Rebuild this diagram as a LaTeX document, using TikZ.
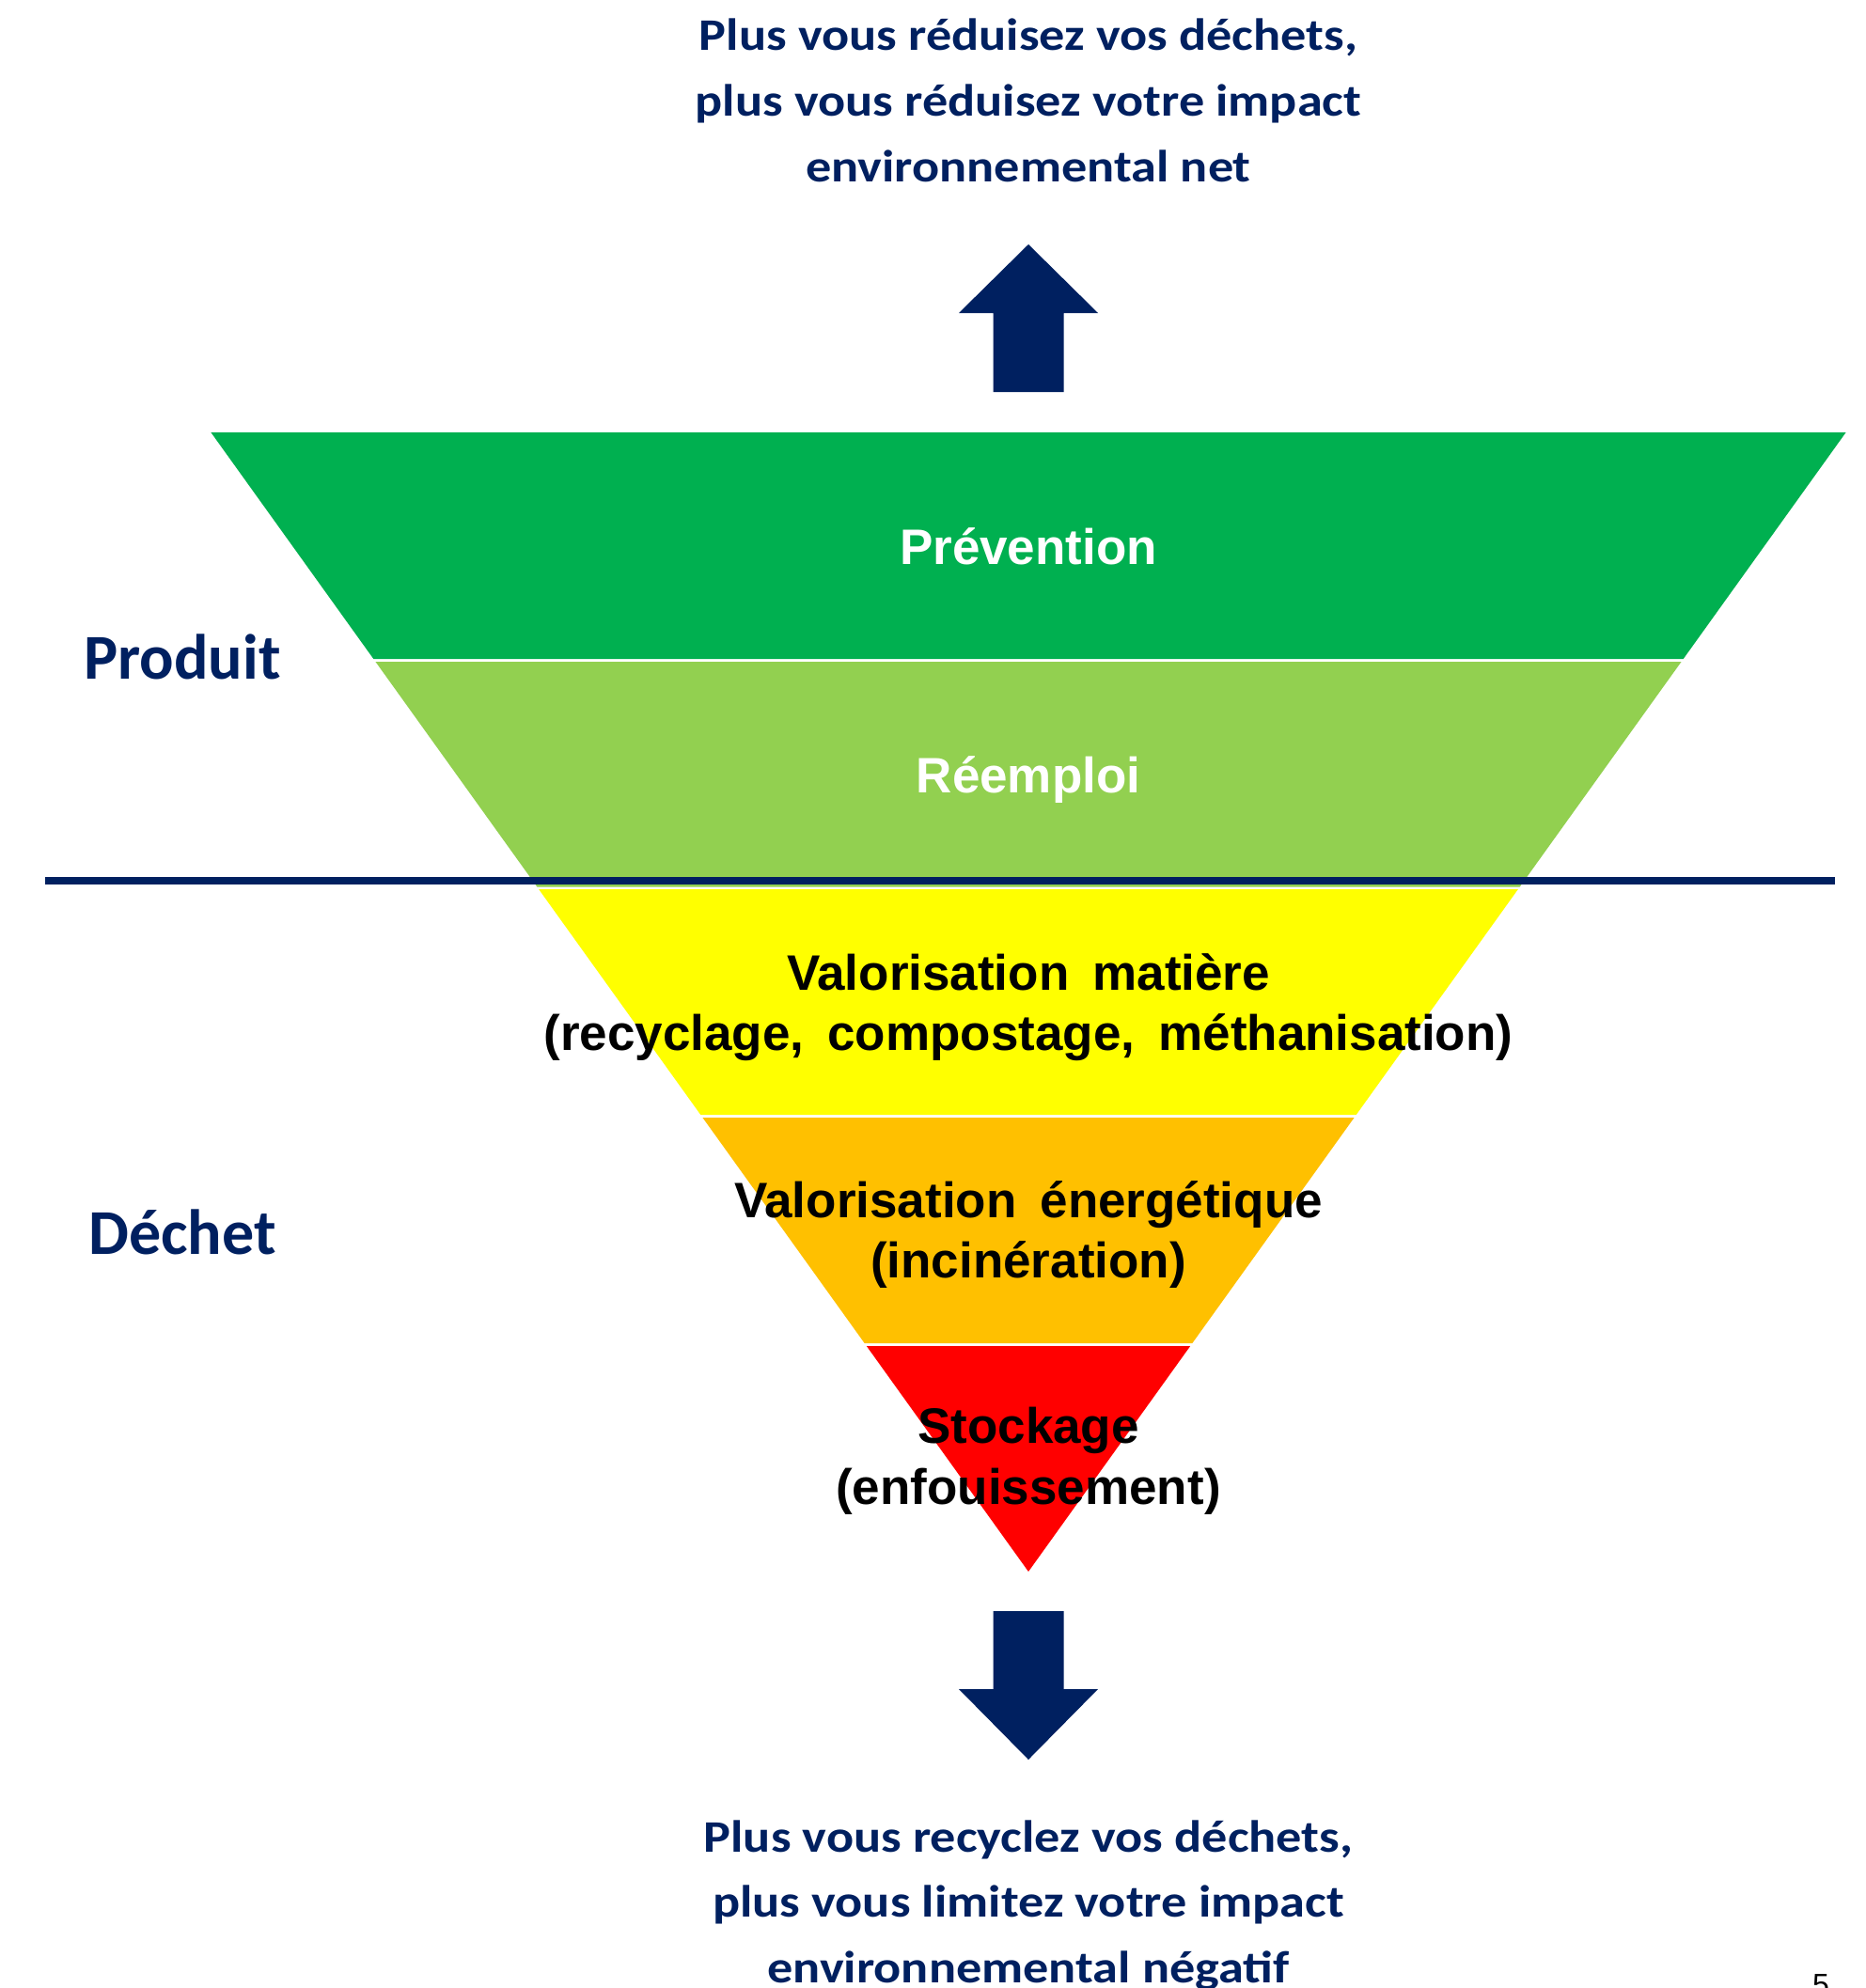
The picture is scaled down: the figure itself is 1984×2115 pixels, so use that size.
\documentclass[tikz,border=0pt]{standalone}
\usepackage{fontspec}
\setmainfont{Liberation Sans}
\newfontfamily\bandfont[WordSpace=1.7]{Liberation Sans}
\newfontfamily\msgfont[FakeStretch=1.13]{Carlito}
\newfontfamily\sidefont{Carlito}
\definecolor{navy}{HTML}{002060}
\definecolor{gdark}{HTML}{00B050}
\definecolor{glight}{HTML}{92D050}
\definecolor{ylw}{HTML}{FFFF00}
\definecolor{orng}{HTML}{FFC000}
\definecolor{rd}{HTML}{FF0000}
\begin{document}
\begin{tikzpicture}[x=1pt,y=-1pt,
  declare function={hw(\t)=0.7175*(1672-\t);},
  msg/.style={font=\msgfont\bfseries\fontsize{48}{58}\selectfont, text=navy, anchor=base, inner sep=0pt},
  bandtxt/.style={font=\bandfont\bfseries\fontsize{53}{64}\selectfont, anchor=base, inner sep=0pt},
  side/.style={font=\sidefont\bfseries\fontsize{68}{80}\selectfont, text=navy, anchor=base, inner sep=0pt},
  blockarrow/.style={fill=navy}
]
\useasboundingbox (0,0) rectangle (1984,2115);
\clip (0,0) rectangle (1984,2115);

% bands of the inverted triangle
\fill[gdark]  ({1094-hw(460)},460) -- ({1094+hw(460)},460) -- ({1094+hw(701)},701) -- ({1094-hw(701)},701) -- cycle;
\fill[glight] ({1094-hw(704)},704) -- ({1094+hw(704)},704) -- ({1094+hw(943.5)},943.5) -- ({1094-hw(943.5)},943.5) -- cycle;
\fill[ylw]    ({1094-hw(946)},946) -- ({1094+hw(946)},946) -- ({1094+hw(1186)},1186) -- ({1094-hw(1186)},1186) -- cycle;
\fill[orng]   ({1094-hw(1189)},1189) -- ({1094+hw(1189)},1189) -- ({1094+hw(1429)},1429) -- ({1094-hw(1429)},1429) -- cycle;
\fill[rd]     ({1094-hw(1432)},1432) -- ({1094+hw(1432)},1432) -- (1094,1672) -- cycle;

% separator line
\coordinate (sepL) at (48,937);
\coordinate (sepR) at (1952,937);
\draw[navy, line width=8pt] (sepL) -- (sepR);

% block arrows
\fill[blockarrow] (1094,260) -- (1168,333) -- (1131.5,333) -- (1131.5,417) -- (1056.5,417) -- (1056.5,333) -- (1020,333) -- cycle;
\fill[blockarrow] (1056.5,1714) -- (1131.5,1714) -- (1131.5,1797) -- (1168,1797) -- (1094,1872) -- (1020,1797) -- (1056.5,1797) -- cycle;

% top message
\node[msg] (top1) at (1094,53)  {Plus vous réduisez vos déchets,};
\node[msg] (top2) at (1094,123) {plus vous réduisez votre impact};
\node[msg] (top3) at (1094,193) {environnemental net};

% bottom message
\node[msg] (bot1) at (1094,1970) {Plus vous recyclez vos déchets,};
\node[msg] (bot2) at (1094,2039) {plus vous limitez votre impact};
\node[msg] (bot3) at (1094,2109) {environnemental négatif};

% side labels
\node[side] (produit) at (194,722)  {Produit};
\node[side] (dechet)  at (194,1334) {Déchet};

% band labels
\node[bandtxt, text=white] (prev) at (1094,600) {Prévention};
\node[bandtxt, text=white] (reem) at (1094,843) {Réemploi};
\node[bandtxt] (vm1) at (1094,1053) {Valorisation matière};
\node[bandtxt] (vm2) at (1094,1117) {(recyclage, compostage, méthanisation)};
\node[bandtxt] (ve1) at (1094,1295) {Valorisation énergétique};
\node[bandtxt] (ve2) at (1094,1359) {(incinération)};
\node[bandtxt] (st1) at (1094,1535) {Stockage};
\node[bandtxt] (st2) at (1094,1600) {(enfouissement)};

% page number (cut by the frame)
\node[font=\fontsize{32}{36}\selectfont, anchor=north west, inner sep=0pt] (pagenum) at (1928,2100) {5};
\end{tikzpicture}
\end{document}
